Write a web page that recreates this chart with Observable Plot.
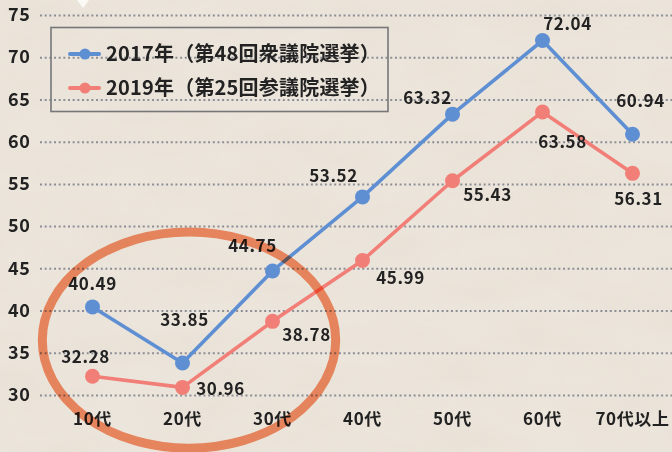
<!DOCTYPE html>
<html>
<head>
<meta charset="utf-8">
<script src="https://cdn.jsdelivr.net/npm/d3@7"></script>
<script src="https://cdn.jsdelivr.net/npm/@observablehq/plot@0.6"></script>
<style>
  html, body { margin: 0; padding: 0; background: #ece5db; }
  #chart { position: relative; width: 672px; height: 452px; overflow: hidden; }
  #chart svg text { letter-spacing: 0.6px; }
</style>
</head>
<body>
<div id="chart"></div>
<script>
// ---- data ----
const categories = ["10代", "20代", "30代", "40代", "50代", "60代", "70代以上"];
const values2017 = [40.49, 33.85, 44.75, 53.52, 63.32, 72.04, 60.94];
const values2019 = [32.28, 30.96, 38.78, 45.99, 55.43, 63.58, 56.31];
const seriesNames = ["2017年（第48回衆議院選挙）", "2019年（第25回参議院選挙）"];
const seriesColors = ["#5f8fd3", "#f17f78"];
const yTicks = [30, 35, 40, 45, 50, 55, 60, 65, 70, 75];

// label placement (pixels, relative to each point)
const labelOffsets2017 = [[0, -22], [2, -42], [-20, -24], [-29, -20], [-25, -16], [25, -16], [8, -33]];
const labelOffsets2019 = [[-7, -19], [38, 2], [34, 14], [38, 18], [35, 15], [20, 31], [6, 26]];

const series = [
  {name: seriesNames[0], values: values2017, color: seriesColors[0], offsets: labelOffsets2017},
  {name: seriesNames[1], values: values2019, color: seriesColors[1], offsets: labelOffsets2019}
];

const rows = series.map(s => categories.map((c, i) => ({cat: c, v: s.values[i], name: s.name})));

const FONT = "'Noto Sans CJK JP', 'Noto Sans', sans-serif";

const marks = [
  Plot.ruleY(yTicks, {stroke: "#8c8e97", strokeWidth: 2, strokeDasharray: "2,2.67"}),
  Plot.axisY(yTicks, {tickSize: 0, tickPadding: 10, fontSize: 18, fill: "#222", tickFormat: d => String(d)}),
  Plot.axisX({tickSize: 0, tickPadding: 17, fontSize: 17, fill: "#222"})
];
series.forEach((s, k) => {
  marks.push(Plot.line(rows[k], {x: "cat", y: "v", stroke: s.color, strokeWidth: 3.6}));
  marks.push(Plot.dot(rows[k], {x: "cat", y: "v", fill: s.color, r: 7.5}));
});
series.forEach((s, k) => {
  rows[k].forEach((d, i) => {
    marks.push(Plot.text([d], {
      x: "cat", y: "v", text: d => d.v.toFixed(2),
      dx: s.offsets[i][0], dy: s.offsets[i][1],
      fontSize: 17, fill: "#222", fontWeight: "bold"
    }));
  });
});

const plot = Plot.plot({
  width: 672,
  height: 452,
  marginLeft: 40,
  marginRight: 0,
  marginTop: 15,
  marginBottom: 57,
  style: {background: "transparent", fontFamily: FONT, fontWeight: "bold", overflow: "visible"},
  x: {type: "point", domain: categories, range: [91, 632], padding: 0, label: null},
  y: {domain: [30, 75], label: null},
  marks
});

const svg = d3.select(plot);
const xs = plot.scale("x"), ys = plot.scale("y");

// subtle paper texture behind everything
const defs = svg.insert("defs", ":first-child");
const f = defs.append("filter").attr("id", "paper").attr("x", 0).attr("y", 0).attr("width", "100%").attr("height", "100%");
f.append("feTurbulence").attr("type", "fractalNoise").attr("baseFrequency", "0.012 0.03").attr("numOctaves", 3).attr("seed", 4);
f.append("feColorMatrix").attr("type", "matrix")
  .attr("values", "0 0 0 0 0.55  0 0 0 0 0.47  0 0 0 0 0.38  0 0 0 -1.1 0.75");
svg.insert("rect", "defs + *").attr("width", 672).attr("height", 452)
  .attr("filter", "url(#paper)").attr("opacity", 0.12);

// annotation ellipse around the younger age groups
const cx = (xs.apply(categories[0]) + xs.apply(categories[2])) / 2 + 7;
const cy = ys.apply(36.5);
const step = xs.apply(categories[1]) - xs.apply(categories[0]);
svg.append("ellipse")
  .attr("cx", cx).attr("cy", cy)
  .attr("rx", step * 1.63).attr("ry", ys.apply(36.5) - ys.apply(49.3))
  .attr("fill", "none").attr("stroke", "#f9946c").attr("stroke-width", 9)
  .style("mix-blend-mode", "multiply");

// small pointer at top
svg.append("path").attr("d", "M77,0 L89,0 L83,8 Z").attr("fill", "#fbf9f6");

// legend
const lg = svg.append("g").attr("text-anchor", "start");
lg.append("rect").attr("x", 51).attr("y", 27.5).attr("width", 337).attr("height", 84)
  .attr("fill", "none").attr("stroke", "#77777a").attr("stroke-width", 1.6);
series.forEach((s, k) => {
  const y = 54 + k * 34;
  lg.append("line").attr("x1", 70).attr("x2", 99).attr("y1", y).attr("y2", y)
    .attr("stroke", s.color).attr("stroke-width", 4).attr("stroke-linecap", "round");
  lg.append("circle").attr("cx", 85).attr("cy", y).attr("r", 5.5).attr("fill", s.color);
  lg.append("text").attr("x", 106).attr("y", y).attr("dy", "0.36em")
    .attr("text-anchor", "start")
    .attr("font-size", 20).attr("font-weight", "bold").attr("fill", "#222")
    .style("letter-spacing", "0.2px")
    .text(s.name);
});

document.getElementById("chart").appendChild(plot);
</script>
</body>
</html>
